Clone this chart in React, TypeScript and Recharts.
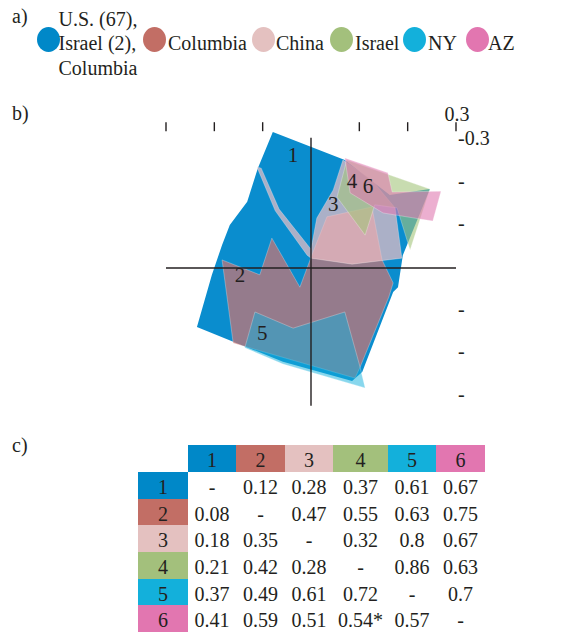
import React from 'react';
import { ScatterChart, Scatter, XAxis, YAxis, ReferenceLine } from 'recharts';

// a) groups
const groupNames = ['U.S. (67),\nIsrael (2),\nColumbia', 'Columbia', 'China', 'Israel', 'NY', 'AZ'];
const groupColors = ['#0088c8', '#c26e65', '#e4c1c0', '#a3c07c', '#13b0db', '#e276b0'];

// b) region outlines in MDS space [x, y]
const region1 = [
  [-0.079, -0.319], [0.07, -0.253], [0.163, -0.171], [0.246, -0.185], [0.19, -0.03], [0.18, 0.045],
  [0.17, 0.056], [0.106, 0.244], [0.085, 0.265], [-0.058, 0.22], [-0.236, 0.138], [-0.205, 0.016],
  [-0.184, -0.054], [-0.168, -0.101], [-0.132, -0.155], [-0.11, -0.234],
];
const region2 = [
  [-0.184, -0.019], [-0.106, 0.016], [-0.081, -0.07], [-0.023, 0.045], [0.004, -0.037], [0.033, -0.12],
  [0.126, -0.143], [0.147, -0.019], [0.17, 0.035], [0.161, 0.068], [0.101, 0.234], [0.091, 0.258],
  [-0.161, 0.176],
];
const region3 = [
  [-0.112, -0.237], [-0.074, -0.134], [-0.008, -0.03], [0.0, -0.023], [0.085, -0.009], [0.188, -0.023],
  [0.174, -0.141], [0.126, -0.206], [0.066, -0.253], [0.046, -0.183], [0.012, -0.117], [0.0, -0.044],
  [-0.066, -0.138], [-0.103, -0.234],
];
const region4 = [
  [0.074, -0.253], [0.246, -0.185], [0.205, -0.042], [0.178, -0.141], [0.132, -0.148], [0.112, -0.077],
  [0.054, -0.166],
];
const region5 = [
  [-0.116, 0.103], [-0.037, 0.141], [0.07, 0.103], [0.101, 0.23], [0.112, 0.281], [-0.058, 0.225],
  [-0.137, 0.187],
];
const region6 = [
  [0.07, -0.258], [0.159, -0.223], [0.168, -0.178], [0.269, -0.18], [0.252, -0.11], [0.149, -0.129],
  [0.081, -0.176],
];
const regionLabels = [
  { name: '1', x: -0.037, y: -0.265 },
  { name: '2', x: -0.147, y: 0.016 },
  { name: '3', x: 0.046, y: -0.15 },
  { name: '4', x: 0.085, y: -0.204 },
  { name: '5', x: -0.101, y: 0.152 },
  { name: '6', x: 0.118, y: -0.192 },
];
const xTicks = [-0.3, -0.2, -0.1, 0.1, 0.2, 0.3];
const yTicks = [-0.3, -0.2, -0.1, 0.1, 0.2, 0.3];

// c) pairwise table
const tableLabels = ['1', '2', '3', '4', '5', '6'];
const tableValues = [
  ['-', '0.12', '0.28', '0.37', '0.61', '0.67'],
  ['0.08', '-', '0.47', '0.55', '0.63', '0.75'],
  ['0.18', '0.35', '-', '0.32', '0.8', '0.67'],
  ['0.21', '0.42', '0.28', '-', '0.86', '0.63'],
  ['0.37', '0.49', '0.61', '0.72', '-', '0.7'],
  ['0.41', '0.59', '0.51', '0.54*', '0.57', '-'],
];

const ink = '#231f20';
const serif = "'Liberation Serif', 'Times New Roman', serif";

const regions = [region1, region2, region3, region4, region5, region6];
const regionFill = ['#0a8dce', '#d07470', '#f0bfc4', '#a3c47b', '#12b0dc', '#e07ab0'];
const regionOpacity = [1, 0.7, 0.7, 0.6, 0.5, 0.6];

const legendCircleX = [37, 143, 252, 330, 403, 466];
const legendTextX = [58.5, 168, 276, 355, 428, 488];
const colWidths = [50, 48, 49, 48, 55, 48, 49];

const TopTick = (props: any) => {
  const { x, y, payload } = props;
  return (
    <g>
      <line x1={x} x2={x} y1={y - 5} y2={y + 4} stroke={ink} strokeWidth={1.4} />
      {payload.value === 0.3 && (
        <text x={x + 1} y={y - 6} textAnchor="middle" fontSize={20} fontFamily={serif} fill={ink}>
          0.3
        </text>
      )}
    </g>
  );
};

const RightTick = (props: any) => {
  const { x, y, payload } = props;
  return (
    <text x={x + 2} y={y + 5} textAnchor="start" fontSize={20} fontFamily={serif} fill={ink}>
      {payload.value === -0.3 ? '-0.3' : '-'}
    </text>
  );
};

const RegionLabel = (props: any) => (
  <text x={props.cx} y={props.cy + 7} textAnchor="middle" fontSize={21} fontFamily={serif} fill={ink}>
    {props.payload.name}
  </text>
);

const NoDot = () => <g />;

const cellStyle: React.CSSProperties = {
  boxSizing: 'border-box',
  textAlign: 'center',
  paddingTop: 5,
  whiteSpace: 'nowrap',
};

export default function App() {
  return (
    <div
      style={{
        position: 'absolute',
        left: 0,
        top: 0,
        width: 561,
        height: 632,
        background: '#fff',
        fontFamily: serif,
        fontSize: 20,
        color: ink,
        overflow: 'hidden',
      }}
    >
      {/* a) legend */}
      <div style={{ position: 'absolute', left: 12, top: 4, lineHeight: '24px' }}>a)</div>
      {groupNames.map((name, i) => (
        <React.Fragment key={i}>
          <div
            style={{
              position: 'absolute',
              left: legendCircleX[i],
              top: 27,
              width: 23,
              height: 25,
              borderRadius: '50%',
              background: groupColors[i],
            }}
          />
          <div
            style={{
              position: 'absolute',
              left: legendTextX[i],
              top: i === 0 ? 6.5 : 31,
              lineHeight: '24.5px',
              whiteSpace: 'pre',
            }}
          >
            {name}
          </div>
        </React.Fragment>
      ))}

      {/* b) chart */}
      <div style={{ position: 'absolute', left: 12, top: 101, lineHeight: '24px' }}>b)</div>
      <div style={{ position: 'absolute', left: 0, top: 90 }}>
        <ScatterChart width={561} height={340} margin={{ top: 7.2, right: 65, bottom: 21.2, left: 166 }}>
          <XAxis
            type="number"
            dataKey="x"
            orientation="top"
            domain={[-0.3, 0.3]}
            ticks={xTicks}
            interval={0}
            height={30}
            axisLine={false}
            tickLine={false}
            tickSize={0}
            tickMargin={0}
            tick={<TopTick />}
          />
          <YAxis
            type="number"
            dataKey="y"
            orientation="right"
            reversed
            domain={[-0.33, 0.33]}
            ticks={yTicks}
            interval={0}
            width={40}
            axisLine={false}
            tickLine={false}
            tickSize={0}
            tickMargin={0}
            tick={<RightTick />}
          />
          {regions.map((pts, i) => (
            <Scatter
              key={i}
              data={[...pts, pts[0]].map(([x, y]) => ({ x, y }))}
              fill={regionFill[i]}
              line={{
                fill: regionFill[i],
                fillOpacity: regionOpacity[i],
                stroke: i === 0 ? 'none' : '#ffffff',
                strokeOpacity: 0.35,
                strokeWidth: 0.8,
              }}
              shape={NoDot}
              isAnimationActive={false}
            />
          ))}
          <ReferenceLine y={0} stroke={ink} strokeWidth={1.4} ifOverflow="visible" zIndex={700} />
          <ReferenceLine
            segment={[{ x: 0, y: -0.305 }, { x: 0, y: 0.323 }]}
            stroke={ink}
            strokeWidth={1.4}
            ifOverflow="visible"
            zIndex={700}
          />
          <Scatter data={regionLabels} shape={RegionLabel} isAnimationActive={false} zIndex={800} />
        </ScatterChart>
      </div>

      {/* c) table */}
      <div style={{ position: 'absolute', left: 12, top: 433, lineHeight: '24px' }}>c)</div>
      <div
        style={{
          position: 'absolute',
          left: 138,
          top: 445,
          display: 'grid',
          gridTemplateColumns: colWidths.map((w) => `${w}px`).join(' '),
          gridTemplateRows: '27px repeat(6, 26.7px)',
          lineHeight: '21.7px',
        }}
      >
        <div />
        {tableLabels.map((l, j) => (
          <div key={`h${j}`} style={{ ...cellStyle, background: groupColors[j] }}>
            {l}
          </div>
        ))}
        {tableValues.map((row, i) => (
          <React.Fragment key={`r${i}`}>
            <div style={{ ...cellStyle, background: groupColors[i] }}>{tableLabels[i]}</div>
            {row.map((v, j) => (
              <div key={j} style={cellStyle}>
                {v}
              </div>
            ))}
          </React.Fragment>
        ))}
      </div>
    </div>
  );
}
